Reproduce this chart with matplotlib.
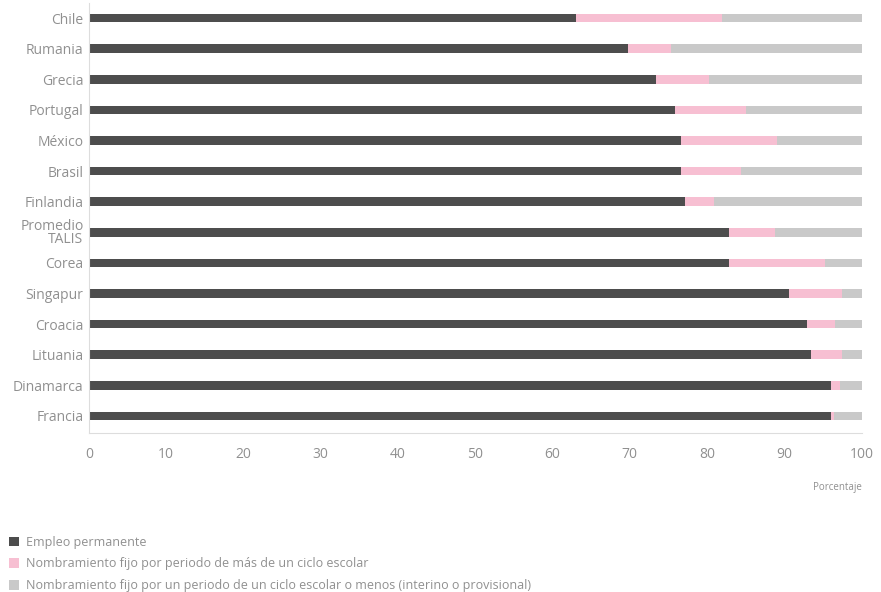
import matplotlib

matplotlib.use("Agg")
import matplotlib.pyplot as plt
import numpy as np
from matplotlib.patches import Patch

plt.rcParams["font.family"] = ["Open Sans", "DejaVu Sans"]

countries = [
    "Chile", "Rumania", "Grecia", "Portugal", "México", "Brasil", "Finlandia",
    "Promedio\nTALIS", "Corea", "Singapur", "Croacia", "Lituania", "Dinamarca", "Francia",
]
permanente = [63.0, 69.7, 73.4, 75.9, 76.6, 76.6, 77.1, 82.8, 82.9, 90.6, 92.9, 93.4, 96.0, 96.0]
mas_de_un_ciclo = [18.9, 5.6, 6.8, 9.1, 12.5, 7.8, 3.8, 6.0, 12.4, 6.9, 3.7, 4.1, 1.2, 0.4]
un_ciclo_o_menos = [100 - p - m for p, m in zip(permanente, mas_de_un_ciclo)]

labels = [
    "Empleo permanente",
    "Nombramiento fijo por periodo de más de un ciclo escolar",
    "Nombramiento fijo por un periodo de un ciclo escolar o menos (interino o provisional)",
]
colors = ["#4d4d4d", "#f7bfd2", "#c9c9c9"]
text_color = "#909090"


def main() -> None:
    fig = plt.figure(figsize=(8.81, 5.92), dpi=100)
    ax = fig.add_axes([0.101, 0.2686, 0.877, 0.7268])

    y = np.arange(len(countries))
    h = 0.28
    left = np.zeros(len(countries))
    for vals, col, lab in zip([permanente, mas_de_un_ciclo, un_ciclo_o_menos], colors, labels):
        ax.barh(y, vals, left=left, height=h, color=col, label=lab)
        left += np.array(vals)

    ax.set_xlim(0, 100)
    ax.set_ylim(13.56, -0.5)
    ax.set_yticks(y)
    ax.set_yticklabels(countries, fontsize=10, color=text_color, linespacing=0.8)
    ax.set_xticks(np.arange(0, 101, 10))
    ax.tick_params(axis="x", length=0, pad=10, labelsize=10, labelcolor=text_color)
    ax.tick_params(axis="y", length=0, pad=4)
    for side in ["top", "right"]:
        ax.spines[side].set_visible(False)
    ax.spines["left"].set_color("#dddddd")
    ax.spines["bottom"].set_color("#dddddd")

    fig.text(0.978, 0.177, "Porcentaje", ha="right", va="center", fontsize=7, color=text_color)

    handles = [Patch(facecolor=c, edgecolor="none") for c in colors]
    fig.legend(
        handles, labels, loc="upper left", bbox_to_anchor=(0.0, 0.11),
        frameon=False, fontsize=9, labelcolor=text_color,
        handlelength=0.8, handleheight=0.8, handletextpad=0.6,
        labelspacing=0.7, borderaxespad=0.3,
    )

    fig.savefig("out.png", dpi=100)
    plt.close(fig)


if __name__ == "__main__":
    main()
